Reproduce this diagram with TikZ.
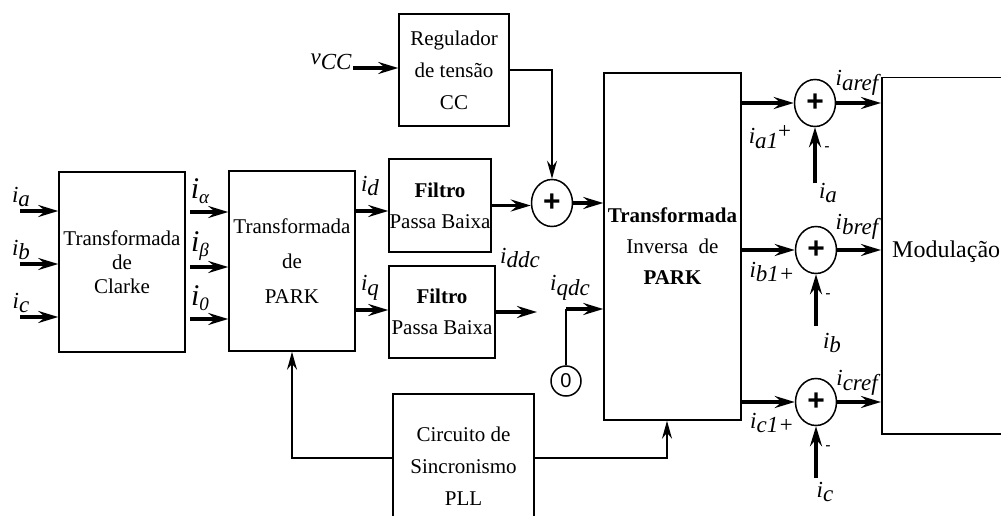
\documentclass[tikz,border=0pt]{standalone}
\usepackage{fontspec}
\setmainfont{Liberation Serif}
\newfontfamily\helv{Liberation Sans}
\usetikzlibrary{positioning,calc,arrows.meta,shapes.geometric}
\newcommand{\lo}[1]{\raisebox{-.45ex}{#1}}
\newcommand{\bigi}[1]{{\fontsize{30}{30}\selectfont i}\lo{\fontsize{19}{19}\selectfont #1}}

\begin{document}
\begin{tikzpicture}[x=1pt,y=-1pt,
 blk/.style={draw,line width=1.5pt,align=center,font=\fontsize{21}{24}\selectfont,inner sep=0pt},
 adder/.style={ellipse,draw,line width=1.5pt,minimum width=41pt,minimum height=47pt,inner sep=0pt,font=\helv\bfseries\fontsize{30}{30}\selectfont},
 lab/.style={font=\fontsize{23}{23}\selectfont\itshape,inner sep=0pt},
 arr/.style={line width=3.2pt,-{Stealth[length=20pt,width=12pt,inset=7pt]}},
 fine/.style={line width=1.8pt},
 fina/.style={line width=1.8pt,-{Stealth[length=18pt,width=10pt,inset=6pt]}}]
\useasboundingbox (0,0) rectangle (1001,516);
\clip (0,0) rectangle (1001,516);

% blocos
\node[blk,minimum width=126pt,minimum height=180pt] (clarke) at (122,262) {Transformada\\de\\Clarke};
\node[blk,minimum width=126pt,minimum height=180pt] (park) at (292,261) {Transformada\\[11pt]de\\[11pt]PARK};
\node[blk,minimum width=102pt,minimum height=93pt] (filt1) at (440,205.5) {\textbf{Filtro}\\[7pt]Passa Baixa};
\node[blk,minimum width=106pt,minimum height=92pt] (filt2) at (442,312) {\textbf{Filtro}\\[7pt]Passa Baixa};
\node[blk,minimum width=110pt,minimum height=112pt] (reg) at (454,70) {Regulador\\[8pt]de tensão\\[8pt]CC};
\node[blk,minimum width=137pt,minimum height=347pt] (inv) at (672.5,246.5) {\textbf{Transformada}\\[7pt]Inversa\ \ de\\[7pt]\textbf{PARK}};
\node[blk,minimum width=141pt,minimum height=144pt] (pll) at (463.5,466) {Circuito de\\[8pt]Sincronismo\\[8pt]PLL};
\node[blk,minimum width=240pt,minimum height=356pt,anchor=north west] (mod) at (881,77) {};
\node[anchor=west,inner sep=0pt,font=\fontsize{24}{24}\selectfont] (modtxt) at (892,252) {Modulação};

\node[adder] (s0) at (552,203) {+};
\node[adder] (sa) at (815,103) {+};
\node[adder] (sb) at (816,250) {+};
\node[adder] (sc) at (816,402) {+};
\node[circle,draw,line width=1.5pt,minimum size=30pt,inner sep=0pt,font=\helv\fontsize{20}{20}\selectfont] (zero) at (566,381) {0};

% entradas
\foreach \n/\y in {a/211,b/264,c/317} {
 \coordinate (in\n) at (20,\y);
 \draw[arr] (in\n) -- (in\n -| clarke.west);
 \node[lab] (l\n) at (21,\y-14) {i\lo{\n}};
}
\foreach \n/\s/\y in {al/α/212,be/β/267,ze/0/319} {
 \coordinate (o\n) at (190,\y);
 \draw[arr] (o\n) -- (o\n -| park.west);
 \node[lab] (l\n) at (200,\y-21) {\bigi{\s}};
}

% dq
\draw[arr] ([yshift=50pt]park.east) -- ([yshift=50pt]park.east -| filt1.west);
\draw[arr] ([yshift=-49pt]park.east) -- ([yshift=-49pt]park.east -| filt2.west);
\node[lab] (lid) at (370,186) {i\lo{d}};
\node[lab] (liq) at (370,288) {i\lo{q}};
\draw[arr] (filt1.east) -- (filt1.east -| s0.west);
\draw[arr] (s0.east) -- (s0.east -| inv.west);
\coordinate (qend) at (537,312);
\draw[arr] (filt2.east) -- (qend);
\node[lab] (lddc) at (520,258) {i\lo{ddc}};
\node[lab] (lqdc) at (570,288) {i\lo{qdc}};
\coordinate (qbend) at (566,309);
\draw[fine] (zero.north) -- (qbend);
\draw[arr] (qbend) -- (qbend -| inv.west);

% regulador
\coordinate (vin) at (353,68);
\draw[arr] (vin) -- (vin -| reg.west);
\node[lab] (lvcc) at (331,62) {v\lo{CC}};
\draw[fina] (reg.east) -| (s0.north);

% PLL
\draw[fina] ([yshift=8pt]pll.east) -| ([xshift=-5.5pt]inv.south);
\draw[fina] ([yshift=8pt]pll.west) -| (park.south);

% somadores de saida
\foreach \s in {sa,sb,sc} {
 \draw[arr] (\s.west -| inv.east) -- (\s.west);
 \draw[arr] (\s.east) -- (\s.east -| mod.west);
 \node[font=\helv\fontsize{16}{16}\selectfont,inner sep=0pt] (m\s) at ([xshift=12pt,yshift=-22pt]\s.south) {-};
}
\draw[arr] ([yshift=-56pt]sa.south) -- (sa.south);
\draw[arr] ([yshift=-52pt]sb.south) -- (sb.south);
\draw[arr] ([yshift=-52pt]sc.south) -- (sc.south);
\node[lab] (lma) at (828,193) {i\lo{a}};
\node[lab] (lmb) at (832,343) {i\lo{b}};
\node[lab] (lmc) at (825,492) {i\lo{c}};
\node[lab] (lpa) at (770,137) {i\lo{a1}\raisebox{.45ex}{\upshape +}};
\node[lab] (lpb) at (772,272) {i\lo{b1+}};
\node[lab] (lpc) at (772,423) {i\lo{c1+}};
\node[lab] (lra) at (857,83) {i\lo{aref}};
\node[lab] (lrb) at (857,227) {i\lo{bref}};
\node[lab] (lrc) at (857,383) {i\lo{cref}};
\end{tikzpicture}
\end{document}
